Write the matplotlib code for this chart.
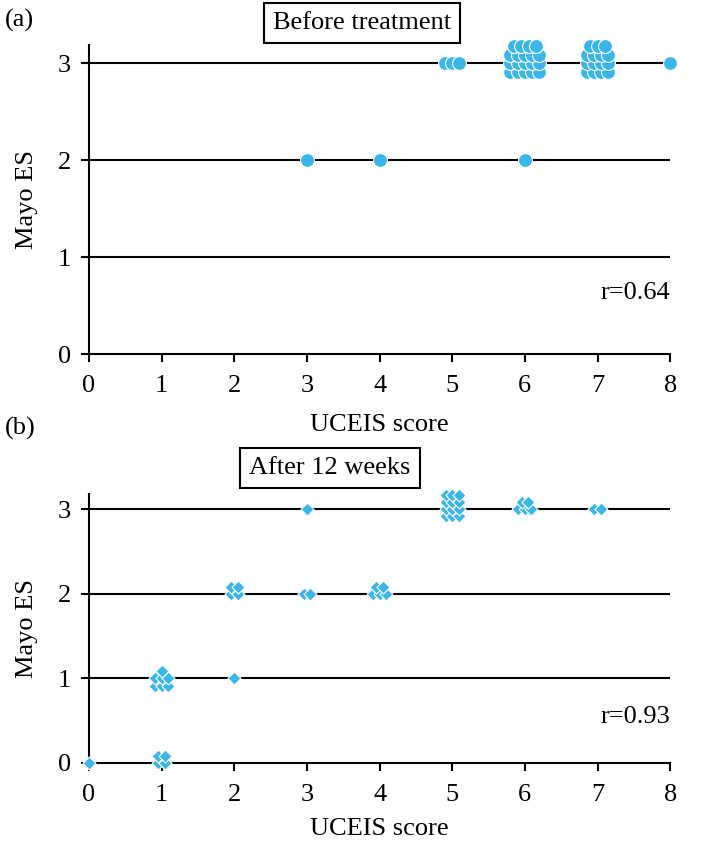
import numpy as np
import matplotlib
matplotlib.use('Agg')
import matplotlib.pyplot as plt

plt.rcParams['font.family'] = ['Liberation Serif', 'DejaVu Serif']

# data: UCEIS score, Mayo ES, number of patients at that point
before_x = [3, 4, 5, 6, 6, 7, 8]
before_y = [2, 2, 3, 2, 3, 3, 3]
before_n = [1, 1, 3, 1, 19, 15, 1]
before_cols = [1, 1, 3, 1, 5, 4, 1]

after_x = [0, 1, 1, 2, 2, 3, 3, 4, 5, 6, 7]
after_y = [0, 0, 1, 1, 2, 2, 3, 2, 3, 3, 3]
after_n = [1, 4, 7, 1, 4, 2, 1, 5, 12, 5, 2]
after_cols = [1, 2, 3, 1, 2, 2, 1, 3, 3, 3, 2]

r_before = 'r=0.64'
r_after = 'r=0.93'

blue = '#3BB6E8'
fs = 19


def cluster(x, y, n, ncol, dx, dy):
    # lay the n points of one (x, y) cell out in a small grid, rows bottom to top
    xs, ys = [], []
    nrow = int(np.ceil(n / ncol))
    start = -np.floor((nrow - 1) / 2)
    left = n
    for r in range(nrow):
        k = min(ncol, left)
        for c in range(k):
            xs.append(x + (c - (k - 1) / 2) * dx)
            ys.append(y + (start + r) * dy)
        left -= k
    return xs, ys


def panel(ax, xs, ys, ns, cols, marker, size, dx, dy, ytop, rtxt, rpos, lpad):
    for yl in [1, 2, 3]:
        ax.plot([0, 8], [yl, yl], color='black', lw=1.5, zorder=1)
    for x, y, n, c in zip(xs, ys, ns, cols):
        px, py = cluster(x, y, n, c, dx, dy)
        for a, b in zip(px, py):
            ax.scatter(a, b, s=size, marker=marker, color=blue, edgecolor='white',
                       linewidth=0.8, zorder=3, clip_on=False)
    ax.set_xlim(0, 8)
    ax.set_ylim(0, ytop)
    ax.set_xticks(range(9))
    ax.set_yticks([0, 1, 2, 3])
    for s in ['top', 'right']:
        ax.spines[s].set_visible(False)
    for s in ['left', 'bottom']:
        ax.spines[s].set_linewidth(1.5)
    ax.tick_params(labelsize=fs, width=1.5, length=6, direction='out')
    ax.tick_params(axis='x', pad=9)
    ax.tick_params(axis='y', pad=7)
    ax.set_xlabel('UCEIS score', fontsize=fs, labelpad=lpad)
    ax.set_ylabel('Mayo ES', fontsize=fs, labelpad=14)
    ax.text(8, rpos, rtxt, fontsize=fs, ha='right', va='center')


fig = plt.figure(figsize=(7.01, 8.43), dpi=100)
ax1 = fig.add_axes([0.127, 0.580, 0.829, 0.3666])
ax2 = fig.add_axes([0.127, 0.0949, 0.829, 0.319])

panel(ax1, before_x, before_y, before_n, before_cols, 'o', 100, 0.1, 0.09, 3.19, r_before, 0.63, 12)
panel(ax2, after_x, after_y, after_n, after_cols, 'D', 44, 0.09, 0.085, 3.18, r_after, 0.54, 9)

box = dict(boxstyle='square,pad=0.35', facecolor='white', edgecolor='black', linewidth=1.5)
fig.text(362 / 701, 1 - 23 / 843, 'Before treatment', fontsize=fs, ha='center', va='center', bbox=box)
fig.text(330 / 701, 1 - 468 / 843, 'After 12 weeks', fontsize=fs, ha='center', va='center', bbox=box)
fig.text(5 / 701, 1 - 20 / 843, '(a)', fontsize=fs, ha='left', va='center')
fig.text(5 / 701, 1 - 428 / 843, '(b)', fontsize=fs, ha='left', va='center')

fig.savefig('out.png', dpi=100)
